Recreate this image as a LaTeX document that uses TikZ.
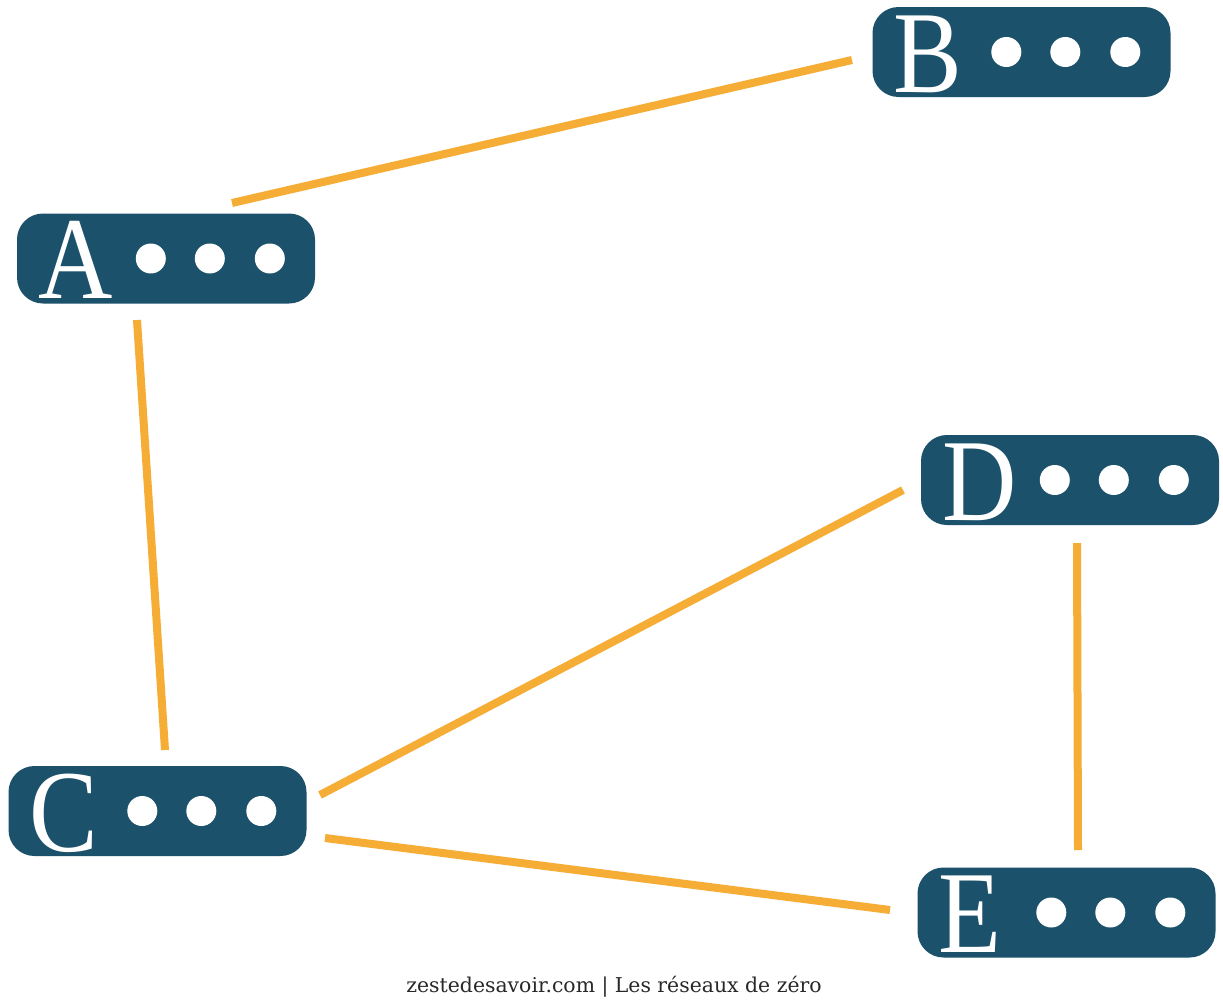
\documentclass[tikz,border=0pt]{standalone}
\usepackage{fontspec}
\setmainfont{Liberation Serif}
\newfontfamily\letterfont[FakeStretch=0.88]{Liberation Serif}
\newfontfamily\footfont{DejaVu Serif}
\definecolor{boxblue}{RGB}{27,81,106}
\definecolor{linkorange}{RGB}{246,173,54}
\definecolor{foottext}{RGB}{40,40,40}
\newcommand\netbox[4]{%
  \node[netrect] (#1) at (#2,#3) {};
  \node[letter] (#1l) at ([xshift=21pt,yshift=-40pt]#1.west) {#4};
  \node[dot] (#1d1) at ([xshift=134pt]#1.west) {};
  \node[dot] (#1d2) at ([xshift=193pt]#1.west) {};
  \node[dot] (#1d3) at ([xshift=253pt]#1.west) {};
}
\begin{document}
\begin{tikzpicture}[x=1pt,y=-1pt,
  netrect/.style={fill=boxblue, rounded corners=26pt, minimum width=298pt, minimum height=90pt, inner sep=0pt, draw=none},
  letter/.style={text=white, font=\letterfont\fontsize{117}{117}\selectfont, inner sep=0pt, anchor=base west},
  dot/.style={circle, fill=white, minimum size=30pt, inner sep=0pt},
  link/.style={draw=linkorange, line width=8pt}]
\useasboundingbox[fill=white] (0,0) rectangle (1223,1001);
\netbox{A}{166}{258.5}{A}
\netbox{B}{1021.5}{52}{B}
\netbox{D}{1070}{480}{D}
\netbox{C}{157.5}{811}{C}
\netbox{E}{1066.5}{912.5}{E}
% connector end points
\coordinate (ab1) at (232,203);
\coordinate (ab2) at (852,60);
\coordinate (ac1) at (137,320);
\coordinate (ac2) at (165,750);
\coordinate (cd1) at (320,795);
\coordinate (cd2) at (903,490);
\coordinate (ce1) at (325,838);
\coordinate (ce2) at (890,910);
\coordinate (de1) at (1077,543);
\coordinate (de2) at (1078,850);
\draw[link] (ab1) -- (ab2);
\draw[link] (ac1) -- (ac2);
\draw[link] (cd1) -- (cd2);
\draw[link] (ce1) -- (ce2);
\draw[link] (de1) -- (de2);
\node[font=\footfont\fontsize{20.4}{20.4}\selectfont, text=foottext, inner sep=0pt, anchor=base] (foot) at (614,992) {zestedesavoir.com | Les réseaux de zéro};
\end{tikzpicture}
\end{document}
